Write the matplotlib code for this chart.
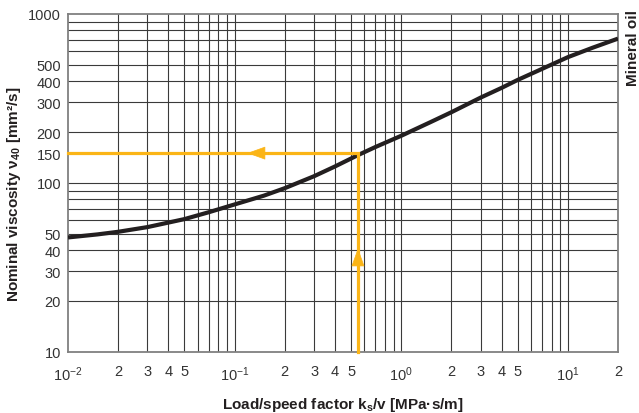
import matplotlib
matplotlib.use("Agg")
import matplotlib.pyplot as plt
from matplotlib.patches import FancyArrowPatch
import numpy as np

plt.rcParams['font.family'] = ['Liberation Sans', 'DejaVu Sans']
plt.rcParams['mathtext.fontset'] = 'custom'
plt.rcParams['mathtext.rm'] = 'Liberation Sans'
plt.rcParams['mathtext.it'] = 'Liberation Sans:italic'
plt.rcParams['mathtext.bf'] = 'Liberation Sans:bold'
plt.rcParams['mathtext.default'] = 'regular'

# Curve (load/speed factor vs nominal viscosity)
curve_x = [0.01, 0.015, 0.02, 0.03, 0.05, 0.07, 0.1, 0.15, 0.2, 0.3, 0.4, 0.55,
           0.7, 1.0, 1.5, 2.0, 3.0, 4.0, 5.0, 7.0, 10.0, 14.0, 20.0]
curve_y = [47.5, 49.5, 51.3, 54.7, 61, 67, 74.5, 84, 93, 109.5, 125, 146,
           163, 190, 229, 262, 320, 365, 407, 473, 555, 630, 715]

# Example reading (orange)
example_x = 0.55
example_y = 150
arrow_up = (30, 41)          # y from, y to
arrow_left = (0.149, 0.119)  # x from, x to

xtick_major = [0.01, 0.1, 1, 10]
xtick_major_labels = [r'$10^{-2}$', r'$10^{-1}$', r'$10^{0}$', r'$10^{1}$']
xtick_minor = [0.02, 0.03, 0.04, 0.05, 0.2, 0.3, 0.4, 0.5,
               2, 3, 4, 5, 20]
xtick_minor_labels = ['2', '3', '4', '5', '2', '3', '4', '5',
                      '2', '3', '4', '5', '2']
ytick_vals = [10, 20, 30, 40, 50, 100, 150, 200, 300, 400, 500, 1000]
ytick_labels = ['10', '20', '30', '40', '50', '100', '150', '200', '300', '400', '500', '1000']

ORANGE = '#FBB517'
W, H = 639, 414
fig = plt.figure(figsize=(W/100, H/100), dpi=100)
ax = fig.add_axes([68/W, 1-352.7/H, 550/W, 337.7/H])
ax.set_xscale('log')
ax.set_yscale('log')
ax.set_xlim(0.01, 20)
ax.set_ylim(10, 1000)

# grid
for dec in [0.01, 0.1, 1, 10]:
    for k in range(1, 10):
        v = dec*k
        if 0.01 < v < 20:
            ax.axvline(v, color='#3a3a3a', lw=0.8, zorder=1)
for dec in [10, 100]:
    for k in range(1, 10):
        v = dec*k
        if 10 < v < 1000:
            ax.axhline(v, color='#3a3a3a', lw=0.8, zorder=1)

ax.plot(curve_x, curve_y, color='#231f20', lw=3.0, zorder=3,
        solid_capstyle='butt', solid_joinstyle='round')

# orange reading lines
ax.plot([example_x, example_x, 0.01], [10, example_y, example_y],
        color=ORANGE, lw=2.3, zorder=4, solid_joinstyle='miter', clip_on=False)
for (p0, p1) in [((example_x, arrow_up[0]), (example_x, arrow_up[1])),
                 ((arrow_left[0], example_y), (arrow_left[1], example_y))]:
    a = FancyArrowPatch(p0, p1, arrowstyle='-|>,head_length=12,head_width=4.3',
                        mutation_scale=1, color=ORANGE, lw=0.5, zorder=5,
                        shrinkA=0, shrinkB=0)
    ax.add_patch(a)

ax.set_xticks(xtick_major)
ax.set_xticklabels(xtick_major_labels)
ax.set_xticks(xtick_minor, minor=True)
ax.set_xticklabels(xtick_minor_labels, minor=True)
ax.set_yticks(ytick_vals)
ax.set_yticklabels(ytick_labels)
ax.yaxis.set_minor_locator(matplotlib.ticker.NullLocator())
ax.tick_params(which='both', length=0, labelsize=10.5, colors='#333333')
ax.tick_params(axis='x', which='both', pad=9)
ax.tick_params(axis='y', which='both', pad=5)

for s in ax.spines.values():
    s.set_color('#808080')
    s.set_linewidth(1.3)

ax.set_ylabel('Nominal viscosity ν$_{40}$ [mm²/s]', fontsize=11, fontweight='bold',
              color='#231f20')
ax.yaxis.set_label_coords(-0.082, 0.47)
ax.set_xlabel('Load/speed factor k$_{s}$/v [MPa·s/m]', fontsize=11, fontweight='bold',
              color='#231f20')
ax.xaxis.set_label_coords(0.5, -0.128)

fig.text(633/W, 1-48/H, 'Mineral oil', rotation=90, ha='center', va='center',
         fontsize=11, fontweight='bold', color='#231f20')

fig.savefig('out.png', dpi=100)
